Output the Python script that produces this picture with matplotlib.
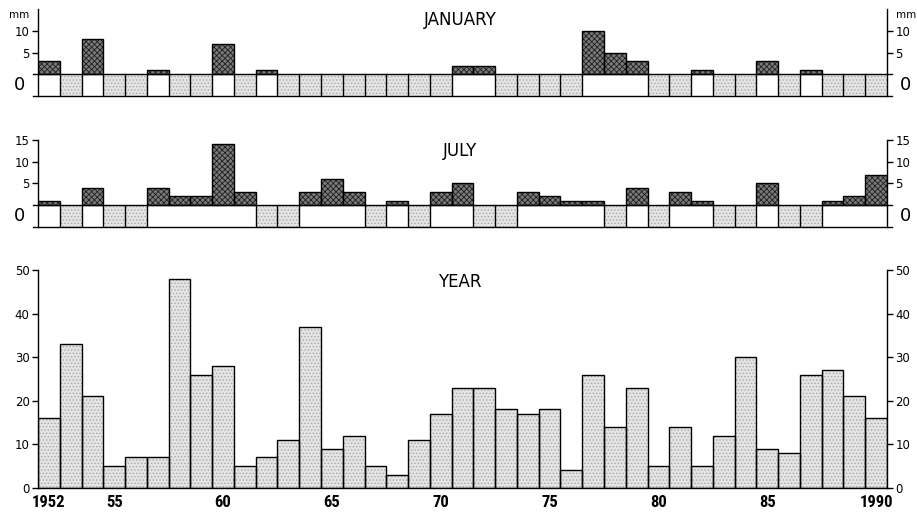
import numpy as np
import matplotlib
matplotlib.use('Agg')
import matplotlib.pyplot as plt

plt.rcParams['font.family'] = ['DejaVu Sans']
plt.rcParams['hatch.linewidth'] = 0.6

# precipitation, mm
years = np.arange(1952, 1991)
jan_mm = [3, 0, 8, 0, 0, 1, 0, 0, 7, 0, 1, 0, 0, 0, 0, 0, 0, 0, 0, 2,
          2, 0, 0, 0, 0, 10, 5, 3, 0, 0, 1, 0, 0, 3, 0, 1, 0, 0, 0]
jul_mm = [1, 0, 4, 0, 0, 4, 2, 2, 14, 3, 0, 0, 3, 6, 3, 0, 1, 0, 3, 5,
          0, 0, 3, 2, 1, 1, 0, 4, 0, 3, 1, 0, 0, 5, 0, 0, 1, 2, 7]
year_mm = [16, 33, 21, 5, 7, 7, 48, 26, 28, 5, 7, 11, 37, 9, 12, 5, 3, 11, 17, 23,
           23, 18, 17, 18, 4, 26, 14, 23, 5, 14, 5, 12, 30, 9, 8, 26, 27, 21, 16]
x_ticks = [1952, 1955, 1960, 1965, 1970, 1975, 1980, 1985, 1990]
x_labels = ['1952', '55', '60', '65', '70', '75', '80', '85', '1990']

LIGHT = '#e4e4e4'
LIGHT_HATCH = '#a8a8a8'
DARK = '#7a7a7a'
DARK_HATCH = '#1e1e1e'
XLIM = (years[0] - 0.5, years[-1] + 0.5)
TITLE_X = 0.497


def style_axes(ax, ymin, ymax):
    ax.set_xlim(*XLIM)
    ax.set_ylim(ymin, ymax)
    for side in ['top', 'bottom']:
        ax.spines[side].set_visible(False)
    for side in ['left', 'right']:
        ax.spines[side].set_linewidth(1.0)
    ax.tick_params(axis='y', which='both', direction='out', length=4, width=1.0,
                   labelsize=8.5, left=True, right=True, labelleft=True, labelright=True,
                   pad=2)
    ax.set_xticks([])


def hatched_bars(ax, x, heights, bottom, face, hatch_col, hatch):
    ax.bar(x, heights, width=1.0, bottom=bottom, color=face, edgecolor=hatch_col,
           hatch=hatch, linewidth=0, zorder=2)
    ax.bar(x, heights, width=1.0, bottom=bottom, fill=False, edgecolor='black',
           linewidth=1.0, zorder=3)


def monthly_panel(ax, values, title, ticks, title_y, top_label=None):
    values = np.asarray(values)
    style_axes(ax, -5, 15)
    wet = values > 0

    # bars above zero for months with precipitation
    hatched_bars(ax, years[wet], values[wet], 0, DARK, DARK_HATCH, 'xxxxxx')

    # indicator row below zero: white = precipitation, stippled = none
    ax.bar(years[~wet], np.full((~wet).sum(), 5.0), width=1.0, bottom=-5,
           color=LIGHT, edgecolor=LIGHT_HATCH, hatch='.....', linewidth=0, zorder=1)
    for i in range(len(years) - 1):
        if not (wet[i] and wet[i + 1]):
            ax.plot([years[i] + 0.5] * 2, [-5, 0], color='black', lw=1.0, zorder=3)
    for y in (0, -5):
        ax.axhline(y, xmin=-0.006, xmax=1.006, color='black', lw=1.0,
                   clip_on=False, zorder=4)

    ax.set_yticks(ticks)
    for x in (-0.022, 1.022):
        ax.text(x, -2.5, '0', transform=ax.get_yaxis_transform(), ha='center',
                va='center', fontsize=13)
        if top_label:
            ax.text(x, 13.6, top_label, transform=ax.get_yaxis_transform(),
                    ha='center', va='center', fontsize=7.5)
    ax.text(TITLE_X, title_y, title, transform=ax.transAxes, ha='center',
            va='center', fontsize=12)


fig = plt.figure(figsize=(9.17, 5.12), dpi=100)
left, width = 38 / 917, (887 - 38) / 917
ax_jan = fig.add_axes([left, 0.8125, width, 0.1699])
ax_jul = fig.add_axes([left, 0.5572, width, 0.1693])
ax_year = fig.add_axes([left, 0.0475, width, 0.4242])

monthly_panel(ax_jan, jan_mm, 'JANUARY', [5, 10], 0.868, top_label='mm')
monthly_panel(ax_jul, jul_mm, 'JULY', [5, 10, 15], 0.873)

# annual totals
style_axes(ax_year, 0, 50)
ax_year.spines['bottom'].set_visible(True)
ax_year.spines['bottom'].set_linewidth(1.0)
hatched_bars(ax_year, years, year_mm, 0, LIGHT, LIGHT_HATCH, '.....')
ax_year.set_yticks(range(0, 51, 10))
ax_year.set_xticks(x_ticks)
ax_year.set_xticklabels(x_labels, family=['Roboto Condensed', 'Roboto'],
                        fontweight='bold', fontsize=12)
ax_year.tick_params(axis='x', length=0, pad=5)
ax_year.text(TITLE_X, 0.947, 'YEAR', transform=ax_year.transAxes, ha='center',
             va='center', fontsize=12)

fig.savefig('out.png', dpi=100, facecolor='white')
